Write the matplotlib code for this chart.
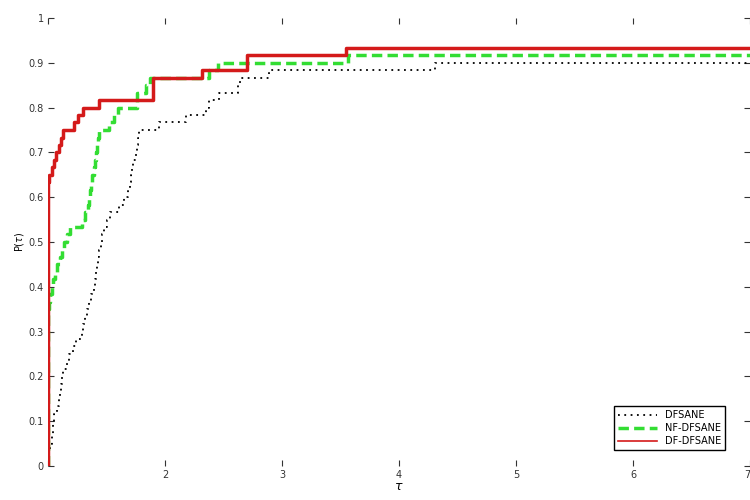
import numpy as np
import matplotlib
matplotlib.use("Agg")
import matplotlib.pyplot as plt

# ============================================================================
# Performance profile data (tau, P(tau))
# ============================================================================
tau_max = 7

dfsane_tau = [1.00, 1.01, 1.02, 1.03, 1.04, 1.045, 1.05, 1.08, 1.09, 1.10,
              1.11, 1.12, 1.13, 1.16, 1.18, 1.21, 1.24, 1.29, 1.30, 1.32,
              1.33, 1.35, 1.37, 1.39, 1.40, 1.41, 1.42, 1.43, 1.44, 1.45,
              1.46, 1.48, 1.50, 1.53, 1.61, 1.65, 1.68, 1.70, 1.71, 1.72,
              1.73, 1.75, 1.76, 1.77, 1.78, 1.95, 2.18, 2.35, 2.38, 2.46,
              2.62, 2.64, 2.89, 4.31]
dfsane_p = [0.017, 0.033, 0.05, 0.067, 0.083, 0.10, 0.117, 0.133, 0.15, 0.167,
            0.183, 0.20, 0.217, 0.233, 0.25, 0.267, 0.283, 0.30, 0.317, 0.333,
            0.35, 0.367, 0.383, 0.40, 0.417, 0.433, 0.45, 0.467, 0.483, 0.50,
            0.517, 0.533, 0.55, 0.567, 0.583, 0.60, 0.617, 0.633, 0.65, 0.667,
            0.683, 0.70, 0.717, 0.733, 0.75, 0.767, 0.783, 0.80, 0.817, 0.833,
            0.85, 0.867, 0.883, 0.90]

nf_tau = [1.00, 1.01, 1.02, 1.03, 1.04, 1.06, 1.08, 1.10, 1.12, 1.14,
          1.16, 1.19, 1.29, 1.32, 1.34, 1.35, 1.36, 1.37, 1.38, 1.39,
          1.40, 1.41, 1.42, 1.43, 1.44, 1.52, 1.56, 1.60, 1.76, 1.84,
          1.87, 2.38, 2.45, 3.56]
nf_p = [0.35, 0.367, 0.383, 0.40, 0.417, 0.433, 0.45, 0.467, 0.483, 0.50,
        0.517, 0.533, 0.55, 0.567, 0.583, 0.60, 0.617, 0.633, 0.65, 0.667,
        0.683, 0.70, 0.717, 0.733, 0.75, 0.767, 0.783, 0.80, 0.833, 0.85,
        0.867, 0.883, 0.90, 0.917]

df_tau = [1.00, 1.01, 1.03, 1.05, 1.07, 1.09, 1.11, 1.13, 1.22, 1.26,
          1.30, 1.44, 1.90, 2.32, 2.70, 3.55]
df_p = [0.633, 0.65, 0.667, 0.683, 0.70, 0.717, 0.733, 0.75, 0.767, 0.783,
        0.80, 0.817, 0.867, 0.883, 0.917, 0.933]

labels = ['DFSANE', 'NF-DFSANE', 'DF-DFSANE']

# ============================================================================
# Plot
# ============================================================================
fig = plt.figure(figsize=(7.5, 5), dpi=100)
ax = fig.add_axes([0.064, 0.068, 0.936, 0.896])


def stairs(ax, tau, p, **kw):
    # start at P=0 on tau=1 and hold last value until tau_max
    x = np.concatenate([[tau[0]], tau, [tau_max]])
    y = np.concatenate([[0.0], p, [p[-1]]])
    return ax.step(x, y, where='post', **kw)


stairs(ax, dfsane_tau, dfsane_p, color='black', linestyle=(0, (1, 2.5)),
       linewidth=1.3, label=labels[0])
stairs(ax, nf_tau, nf_p, color='#33dd33', linestyle='--', linewidth=2.5,
       dashes=(3, 1.5), label=labels[1])
stairs(ax, df_tau, df_p, color='#d41a1a', linestyle='-', linewidth=2.5,
       label=labels[2])

ax.set_xlim(1, tau_max)
ax.set_ylim(0, 1)
ax.set_xticks(range(1, tau_max + 1))
ax.set_xticklabels([''] + [str(i) for i in range(2, tau_max + 1)])
ax.set_yticks(np.arange(0, 1.01, 0.1))
ax.set_yticklabels(['0'] + ['%.1f' % v for v in np.arange(0.1, 0.95, 0.1)] + ['1'])

ax.tick_params(direction='in', top=True, right=True, length=4,
               labelsize=7, colors='#333333', pad=3)
# last x label sits on the figure edge, keep it inside
ax.get_xticklabels()[-1].set_ha('right')
for s in ax.spines.values():
    s.set_visible(False)

ax.set_xlabel(r'$\tau$', fontsize=9, labelpad=0)
ax.set_ylabel(r'P($\tau$)', fontsize=7, labelpad=2)

leg = ax.legend(loc='lower right', bbox_to_anchor=(0.972, 0.024), fontsize=7,
                fancybox=False, framealpha=1, edgecolor='black',
                handlelength=4, borderpad=0.45, labelspacing=0.3)
leg.get_frame().set_linewidth(1.0)
leg.get_lines()[2].set_linewidth(1.2)

plt.savefig('out.png', dpi=100)
plt.close()
